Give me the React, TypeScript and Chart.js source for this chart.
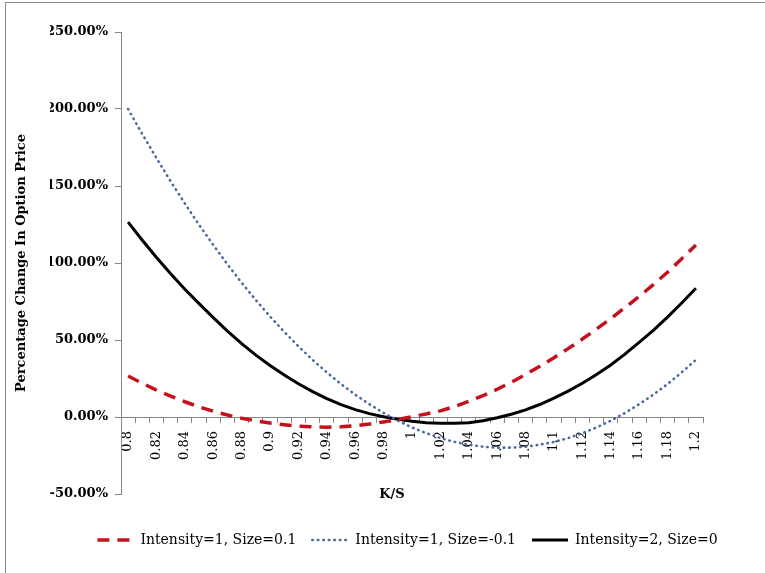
import React, { useEffect, useRef } from "react";
import { Chart, registerables } from "chart.js";

Chart.register(...registerables);

const categories = [
  "0.8", "0.81", "0.82", "0.83", "0.84", "0.85", "0.86", "0.87", "0.88", "0.89",
  "0.9", "0.91", "0.92", "0.93", "0.94", "0.95", "0.96", "0.97", "0.98", "0.99",
  "1", "1.01", "1.02", "1.03", "1.04", "1.05", "1.06", "1.07", "1.08", "1.09",
  "1.1", "1.11", "1.12", "1.13", "1.14", "1.15", "1.16", "1.17", "1.18", "1.19",
  "1.2",
];

// Percentage change, Intensity=1, Size=0.1
const seriesPos = [
  26.6, 21.9, 17.5, 13.5, 9.9, 6.6, 3.7, 1.3, -0.8, -2.5,
  -3.9, -5.0, -5.9, -6.4, -6.6, -6.4, -5.7, -4.6, -3.2, -1.6,
  0.2, 2.0, 4.0, 6.8, 10.2, 13.9, 18.0, 22.6, 27.6, 32.9,
  38.5, 44.4, 50.6, 57.1, 63.9, 71.0, 78.3, 86.0, 94.0, 102.7,
  111.7,
];

// Percentage change, Intensity=1, Size=-0.1
const seriesNeg = [
  200.0, 183.7, 168.1, 153.0, 138.6, 124.8, 111.7, 99.1, 87.2, 75.9,
  65.3, 55.3, 45.9, 37.1, 29.0, 21.4, 14.5, 8.3, 2.6, -2.4,
  -6.8, -10.5, -13.7, -16.2, -18.0, -19.3, -19.9, -19.9, -19.3, -18.0,
  -16.2, -13.7, -10.5, -6.8, -2.4, 2.6, 8.3, 14.5, 21.4, 29.0,
  37.1,
];

// Percentage change, Intensity=2, Size=0
const seriesZero = [
  126.5, 114.8, 103.6, 93.0, 83.0, 73.6, 64.5, 55.8, 47.7, 40.2,
  33.5, 27.2, 21.6, 16.5, 12.0, 8.0, 4.8, 2.2, 0.2, -1.4,
  -2.8, -3.7, -4.1, -4.1, -3.7, -2.4, -0.5, 1.8, 4.6, 8.1,
  12.2, 16.8, 21.9, 27.6, 33.8, 40.8, 48.4, 56.3, 64.9, 74.0,
  83.6,
];

const seriesNames = ["Intensity=1, Size=0.1", "Intensity=1, Size=-0.1", "Intensity=2, Size=0"];
const yTickValues = [-50, 0, 50, 100, 150, 200, 250];
const yTitle = "Percentage Change In Option Price";
const xTitle = "K/S";

const AXIS_GRAY = "#868686";
const SERIF = '"DejaVu Serif", serif';

const xTitlePlugin = {
  id: "xTitlePlugin",
  afterDraw(chart: any) {
    const { ctx, scales } = chart;
    const x = scales.x;
    const y = scales.y;
    ctx.save();
    ctx.font = `bold 13px ${SERIF}`;
    ctx.fillStyle = "#000";
    ctx.textAlign = "center";
    ctx.textBaseline = "middle";
    ctx.fillText(xTitle, (x.left + x.right) / 2 - 20, y.getPixelForValue(yTickValues[0]) + 1);
    ctx.restore();
  },
};

export default function App() {
  const canvasRef = useRef<HTMLCanvasElement | null>(null);

  useEffect(() => {
    if (!canvasRef.current) return;
    const chart = new Chart(canvasRef.current, {
      type: "line",
      data: {
        labels: categories,
        datasets: [
          {
            label: seriesNames[0],
            data: seriesPos,
            xAxisID: "x",
            yAxisID: "y",
            borderColor: "#C3121C",
            backgroundColor: "transparent",
            borderWidth: 3.5,
            borderDash: [12, 8],
            pointRadius: 0,
            tension: 0,
          },
          {
            label: seriesNames[1],
            data: seriesNeg,
            xAxisID: "x",
            yAxisID: "y",
            borderColor: "#4A6A9C",
            backgroundColor: "transparent",
            borderWidth: 2.6,
            borderDash: [0.5, 5],
            borderCapStyle: "round",
            pointRadius: 0,
            tension: 0,
          },
          {
            label: seriesNames[2],
            data: seriesZero,
            xAxisID: "x",
            yAxisID: "y",
            borderColor: "#000000",
            backgroundColor: "transparent",
            borderWidth: 3,
            pointRadius: 0,
            tension: 0,
          },
        ],
      },
      options: {
        animation: false,
        responsive: true,
        maintainAspectRatio: false,
        layout: { padding: { left: 50, right: 0, top: 32, bottom: 16 } },
        plugins: {
          legend: {
            position: "bottom",
            labels: {
              usePointStyle: true,
              pointStyle: "line",
              pointStyleWidth: 36,
              padding: 16,
              color: "#000",
              font: { family: SERIF, size: 14 },
              generateLabels: (c: any) => {
                const items = Chart.defaults.plugins.legend.labels.generateLabels(c);
                return items.map((it: any) => {
                  const ds: any = c.data.datasets[it.datasetIndex];
                  return {
                    ...it,
                    pointStyle: "line",
                    lineDash: ds.borderDash || [],
                    lineWidth: ds.borderWidth,
                    strokeStyle: ds.borderColor,
                    fillStyle: "transparent",
                    lineCap: ds.borderCapStyle || "butt",
                  };
                });
              },
            },
          },
          tooltip: { enabled: false },
        },
        scales: {
          x: {
            type: "category",
            position: { y: 0 },
            offset: true,
            grid: {
              display: true,
              offset: true,
              drawOnChartArea: false,
              drawTicks: true,
              tickLength: 5,
              color: AXIS_GRAY,
            },
            border: { display: true, color: AXIS_GRAY, width: 1 },
            ticks: {
              autoSkip: false,
              maxRotation: 90,
              minRotation: 90,
              padding: 9,
              color: "#000",
              font: { family: SERIF, size: 13 },
              callback: function (this: any, value: any, index: number) {
                return index % 2 === 0 ? this.getLabelForValue(value) : "";
              },
            },
          },
          xPad: {
            axis: "x",
            type: "linear",
            position: "bottom",
            display: true,
            grid: { display: false },
            border: { display: false },
            ticks: { display: false },
            afterFit: (scale: any) => {
              scale.height = 23;
            },
          },
          y: {
            type: "linear",
            position: "left",
            min: yTickValues[0],
            max: yTickValues[yTickValues.length - 1],
            grid: {
              display: true,
              drawOnChartArea: false,
              drawTicks: true,
              tickLength: 6,
              color: AXIS_GRAY,
            },
            border: { display: true, color: AXIS_GRAY, width: 1 },
            ticks: {
              stepSize: 50,
              padding: 7,
              color: "#000",
              font: { family: SERIF, size: 13, weight: "bold" },
              callback: (v: any) => Number(v).toFixed(2) + "%",
            },
            title: {
              display: true,
              text: yTitle,
              color: "#000",
              font: { family: SERIF, size: 13, weight: "bold" },
              padding: { top: -36, bottom: 0 },
            },
            afterFit: (scale: any) => {
              scale.width = 71;
            },
          },
          yRight: {
            axis: "y",
            type: "linear",
            position: "right",
            display: true,
            grid: { display: false },
            border: { display: false },
            ticks: { display: false },
            afterFit: (scale: any) => {
              scale.width = 62;
            },
          },
        },
      },
      plugins: [xTitlePlugin],
    } as any);
    return () => chart.destroy();
  }, []);

  return (
    <div style={{ position: "absolute", left: 0, top: 0, width: 765, height: 573, background: "#fff", overflow: "hidden" }}>
      <div style={{ position: "absolute", left: 0, top: 0, width: 765, height: 573 }}>
        <canvas ref={canvasRef} />
      </div>
      <div
        style={{
          position: "absolute",
          left: 5,
          top: 2,
          width: 800,
          height: 600,
          borderLeft: "1px solid #8a8a8a",
          borderTop: "1px solid #8a8a8a",
          pointerEvents: "none",
        }}
      />
    </div>
  );
}
